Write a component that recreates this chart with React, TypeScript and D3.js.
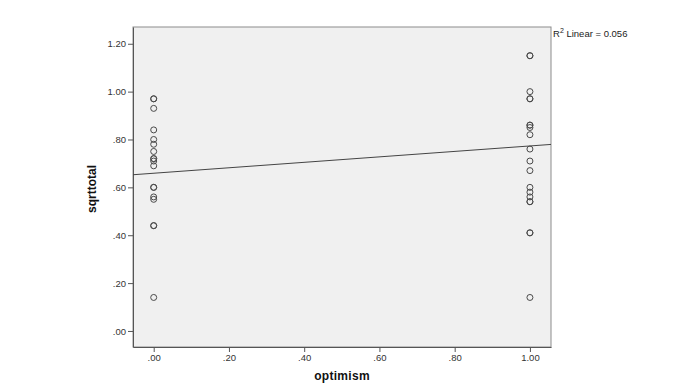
import React, { useEffect, useRef } from 'react';
import * as d3 from 'd3';

// optimism = 0 group (sqrttotal values, repeated values drawn twice)
const groupLowValues = [0.97, 0.97, 0.93, 0.84, 0.8, 0.78, 0.75, 0.72, 0.72, 0.71, 0.69, 0.6, 0.6, 0.56, 0.55, 0.44, 0.44, 0.14];
// optimism = 1 group
const groupHighValues = [1.15, 1.15, 1.0, 0.97, 0.97, 0.86, 0.86, 0.85, 0.82, 0.76, 0.71, 0.67, 0.6, 0.58, 0.56, 0.54, 0.54, 0.41, 0.41, 0.14];
const groupX = [0, 1];

// fitted line
const fitIntercept = 0.659;
const fitSlope = 0.114;
const rSquared = '0.056';

const xTicks = [0, 0.2, 0.4, 0.6, 0.8, 1.0];
const yTicks = [0, 0.2, 0.4, 0.6, 0.8, 1.0, 1.2];

const fmt = (v: number) => (v >= 1 ? d3.format('.2f')(v) : d3.format('.2f')(v).replace(/^0/, ''));

const App = () => {
  const ref = useRef<SVGSVGElement | null>(null);

  useEffect(() => {
    const svg = d3.select(ref.current);
    svg.selectAll('*').remove();

    const left = 133, right = 551, top = 27, bottom = 347;

    const x = d3.scaleLinear().domain([-0.055, 1.056]).range([left, right]);
    const y = d3.scaleLinear().domain([-0.067, 1.27]).range([bottom, top]);

    svg.append('rect')
      .attr('width', 700).attr('height', 388).attr('fill', '#ffffff');

    // plot area
    svg.append('rect')
      .attr('x', left).attr('y', top)
      .attr('width', right - left).attr('height', bottom - top)
      .attr('fill', '#f0f0f0')
      .attr('stroke', '#8c8c8c')
      .attr('stroke-width', 1);

    // Y axis
    const yAxis = svg.append('g')
      .attr('transform', `translate(${left},0)`)
      .call(d3.axisLeft(y).tickValues(yTicks).tickFormat(d => fmt(+d)).tickSize(5).tickSizeOuter(0).tickPadding(2));
    yAxis.select('.domain').attr('stroke', '#555');
    yAxis.selectAll('.tick line').attr('stroke', '#555');
    yAxis.selectAll('.tick text')
      .attr('fill', '#333')
      .style('font-family', '"Liberation Sans", Arial, sans-serif')
      .style('font-size', '9.5px');

    // X axis
    const xAxis = svg.append('g')
      .attr('transform', `translate(0,${bottom})`)
      .call(d3.axisBottom(x).tickValues(xTicks).tickFormat(d => fmt(+d)).tickSize(5).tickSizeOuter(0).tickPadding(2));
    xAxis.select('.domain').attr('stroke', '#555');
    xAxis.selectAll('.tick line').attr('stroke', '#555');
    xAxis.selectAll('.tick text')
      .attr('fill', '#333')
      .style('font-family', '"Liberation Sans", Arial, sans-serif')
      .style('font-size', '9.5px');

    // axis titles
    svg.append('text')
      .attr('transform', `translate(96,${(top + bottom) / 2 + 2}) rotate(-90)`)
      .attr('text-anchor', 'middle')
      .style('font-family', '"Liberation Sans", Arial, sans-serif')
      .style('font-size', '12px')
      .style('font-weight', 'bold')
      .attr('fill', '#111')
      .text('sqrttotal');

    svg.append('text')
      .attr('x', (left + right) / 2)
      .attr('y', 380)
      .attr('text-anchor', 'middle')
      .style('font-family', '"Liberation Sans", Arial, sans-serif')
      .style('font-size', '12px')
      .style('font-weight', 'bold')
      .style('letter-spacing', '0.3px')
      .attr('fill', '#111')
      .text('optimism');

    // fit line
    const xDomain = x.domain();
    svg.append('line')
      .attr('x1', x(xDomain[0])).attr('y1', y(fitIntercept + fitSlope * xDomain[0]))
      .attr('x2', x(xDomain[1])).attr('y2', y(fitIntercept + fitSlope * xDomain[1]))
      .attr('stroke', '#444')
      .attr('stroke-width', 1);

    // points
    const points = [
      ...groupLowValues.map(v => ({ g: groupX[0], v })),
      ...groupHighValues.map(v => ({ g: groupX[1], v })),
    ];
    svg.append('g')
      .selectAll('circle')
      .data(points)
      .enter()
      .append('circle')
      .attr('cx', d => x(d.g))
      .attr('cy', d => y(d.v))
      .attr('r', 3)
      .attr('fill', 'none')
      .attr('stroke', '#4a4a4a')
      .attr('stroke-width', 1);

    // R² label
    const label = svg.append('text')
      .attr('x', right + 2)
      .attr('y', 37)
      .style('font-family', '"Liberation Sans", Arial, sans-serif')
      .style('font-size', '9.5px')
      .attr('fill', '#222');
    label.append('tspan').text('R');
    label.append('tspan').attr('dy', -4).style('font-size', '7px').text('2');
    label.append('tspan').attr('dy', 4).text(` Linear = ${rSquared}`);
  }, []);

  return (
    <div style={{ position: 'absolute', left: 0, top: 0 }}>
      <svg ref={ref} width={700} height={388} style={{ display: 'block' }} />
    </div>
  );
};

export default App;
